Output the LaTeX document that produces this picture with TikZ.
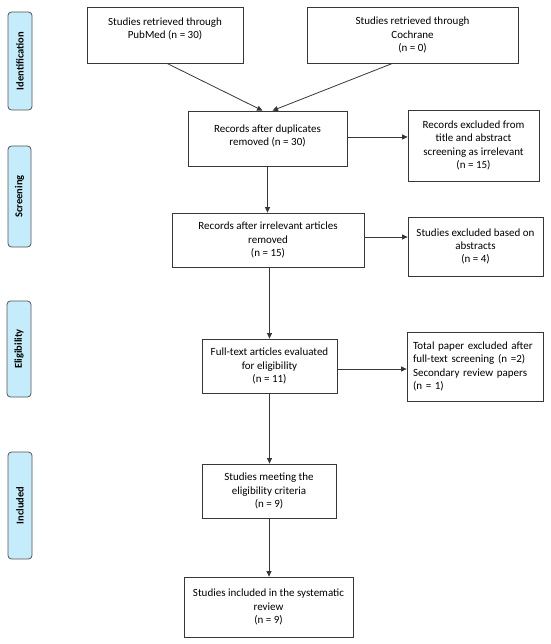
\documentclass[tikz,border=0pt]{standalone}
\usepackage{fontspec}
\setmainfont{Carlito}
\usetikzlibrary{arrows.meta}
\definecolor{sidefill}{RGB}{197,236,250}
\definecolor{edgecol}{RGB}{55,55,55}
\tikzset{
  flowbox/.style={draw=edgecol, line width=0.8pt, inner sep=0pt, align=center, font=\fontsize{11}{13.3}\selectfont},
  sidebox/.style={draw=edgecol!85, fill=sidefill, line width=0.8pt, rounded corners=3.5pt, inner sep=0pt, rotate=90, font=\fontsize{10.5}{12}\selectfont\bfseries},
  flowarrow/.style={draw=edgecol, line width=0.8pt, -{Triangle[length=5.5pt,width=5pt]}}
}
\begin{document}
\begin{tikzpicture}[x=1pt,y=-1pt]
\useasboundingbox (0,0) rectangle (550,644);
% side labels
\node[sidebox, minimum width=98pt, minimum height=24pt] (s1) at (20,61) {Identification};
\node[sidebox, minimum width=101pt, minimum height=23pt] (s2) at (19.5,196.5) {Screening};
\node[sidebox, minimum width=96pt, minimum height=24pt] (s3) at (19,349) {Eligibility};
\node[sidebox, minimum width=107pt, minimum height=24pt] (s4) at (20,505.5) {Included};
% boxes
\node[flowbox, minimum width=156pt, minimum height=56pt] (b1) at (165,35) {Studies retrieved through\\PubMed (n = 30)\\\phantom{x}};
\node[flowbox, minimum width=211pt, minimum height=56pt] (b2) at (412.5,35) {Studies retrieved through\\Cochrane\\(n = 0)};
\node[flowbox, minimum width=159pt, minimum height=55pt] (b3) at (267.5,138.5) {Records after duplicates\\removed (n = 30)\\[-6pt]\phantom{x}};
\node[flowbox, minimum width=131pt, minimum height=71pt] (b4) at (473.5,145.5) {Records excluded from\\title and abstract\\screening as irrelevant\\(n = 15)};
\node[flowbox, minimum width=192pt, minimum height=54pt] (b5) at (268,240) {Records after irrelevant articles\\removed\\(n = 15)};
\node[flowbox, minimum width=135pt, minimum height=59pt] (b6) at (475.5,246.5) {Studies excluded based on\\abstracts\\(n = 4)};
\node[flowbox, minimum width=135pt, minimum height=54pt] (b7) at (269.5,366) {Full-text articles evaluated\\for eligibility\\(n = 11)};
\node[flowbox, minimum width=136pt, minimum height=69pt, align=left, text width=124pt] (b8) at (475,366.5) {Total paper excluded after\\full-text screening (n =2)\\Secondary review papers\\(n = 1)};
\node[flowbox, minimum width=134pt, minimum height=54pt] (b9) at (269,491) {Studies meeting the\\eligibility criteria\\(n = 9)};
\node[flowbox, minimum width=169pt, minimum height=60pt] (b10) at (268.5,607) {Studies included in the systematic\\review\\(n = 9)};
% connectors
\draw[flowarrow] ([xshift=2pt]b1.south) -- ([xshift=-5pt]b3.north);
\draw[flowarrow] ([xshift=-20pt]b2.south) -- ([xshift=5pt]b3.north);
\draw[flowarrow] ([yshift=1.5pt]b3.east) -- ([yshift=1.5pt]b3.east -| b4.west);
\draw[flowarrow] (b3.south) -- (b3.south |- b5.north);
\draw[flowarrow] ([yshift=3pt]b5.east) -- ([yshift=3pt]b5.east -| b6.west);
\draw[flowarrow] (b7.north |- b5.south) -- (b7.north);
\draw[flowarrow] ([yshift=-3pt]b7.east) -- ([yshift=-3pt]b7.east -| b8.west);
\draw[flowarrow] (b7.south) -- (b7.south |- b9.north);
\draw[flowarrow] (b9.south) -- (b9.south |- b10.north);
\end{tikzpicture}
\end{document}
